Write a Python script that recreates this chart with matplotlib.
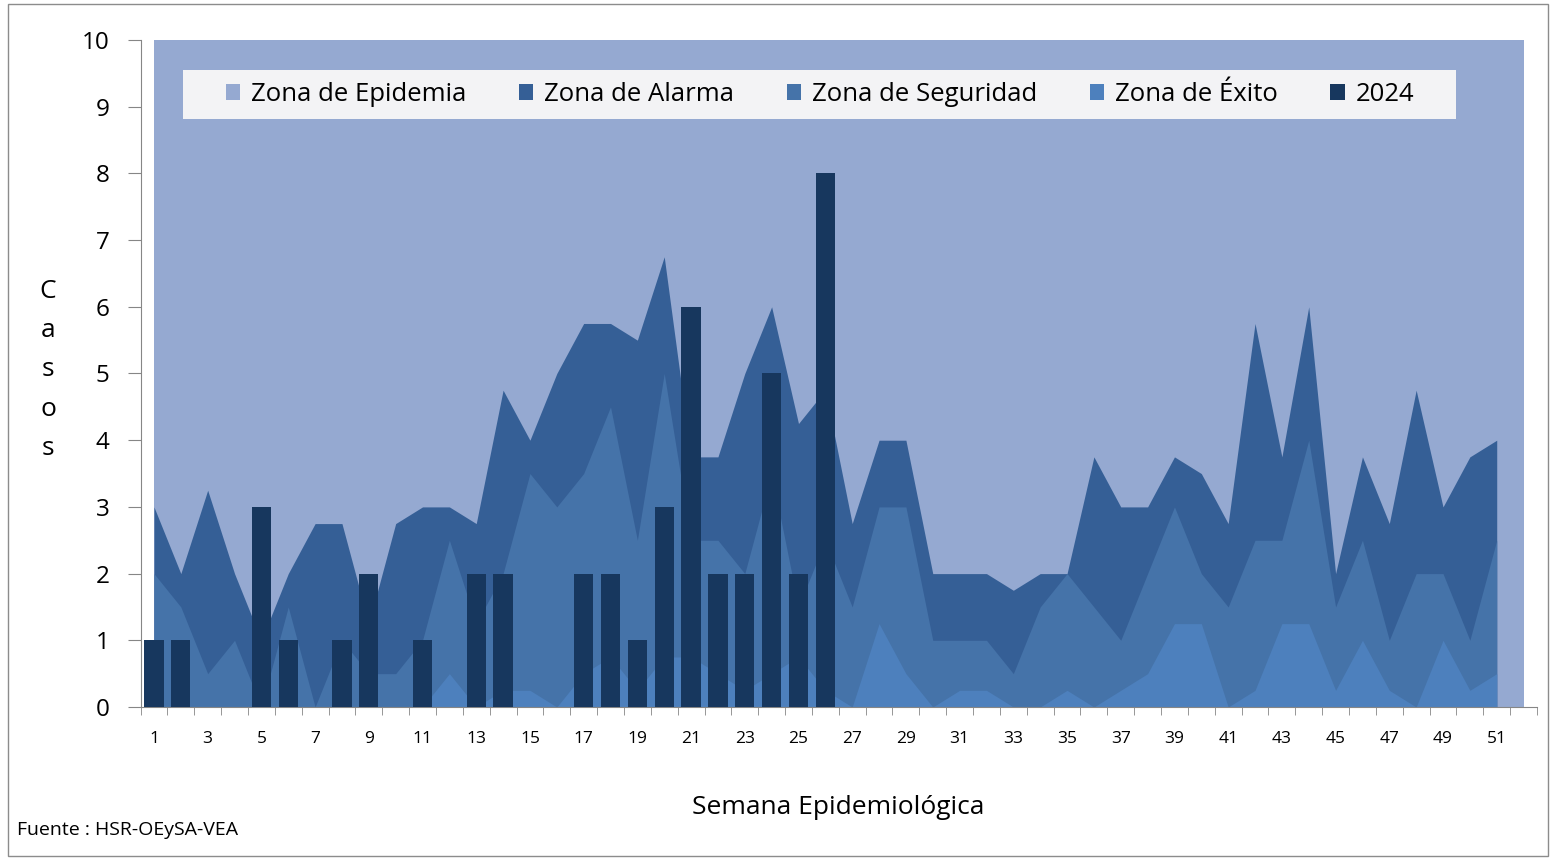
import matplotlib
matplotlib.use('Agg')
import matplotlib.pyplot as plt
from matplotlib.patches import Rectangle

plt.rcParams['font.family'] = ['Open Sans', 'DejaVu Sans']

# semanas epidemiologicas
semanas = [1, 2, 3, 4, 5, 6, 7, 8, 9, 10, 11, 12, 13, 14, 15, 16, 17, 18, 19, 20,
           21, 22, 23, 24, 25, 26, 27, 28, 29, 30, 31, 32, 33, 34, 35, 36, 37, 38, 39, 40,
           41, 42, 43, 44, 45, 46, 47, 48, 49, 50, 51]
semanas_epi = semanas + [52]

# limites superiores de cada zona (casos)
epidemia = [10] * 52
alarma = [3.0, 2.0, 3.25, 2.0, 1.0, 2.0, 2.75, 2.75, 1.25, 2.75,
          3.0, 3.0, 2.75, 4.75, 4.0, 5.0, 5.75, 5.75, 5.5, 6.75,
          3.75, 3.75, 5.0, 6.0, 4.25, 4.75, 2.75, 4.0, 4.0, 2.0,
          2.0, 2.0, 1.75, 2.0, 2.0, 3.75, 3.0, 3.0, 3.75, 3.5,
          2.75, 5.75, 3.75, 6.0, 2.0, 3.75, 2.75, 4.75, 3.0, 3.75, 4.0]
seguridad = [2.0, 1.5, 0.5, 1.0, 0.0, 1.5, 0.0, 1.0, 0.5, 0.5,
             1.0, 2.5, 1.25, 2.0, 3.5, 3.0, 3.5, 4.5, 2.5, 5.0,
             2.5, 2.5, 2.0, 3.5, 1.5, 2.5, 1.5, 3.0, 3.0, 1.0,
             1.0, 1.0, 0.5, 1.5, 2.0, 1.5, 1.0, 2.0, 3.0, 2.0,
             1.5, 2.5, 2.5, 4.0, 1.5, 2.5, 1.0, 2.0, 2.0, 1.0, 2.5]
exito = [0, 0, 0, 0, 0, 0, 0, 0, 0, 0,
         0, 0.5, 0, 0.25, 0.25, 0, 0.5, 0.75, 0.25, 0.75,
         0.75, 0.5, 0.25, 0.5, 0.75, 0.25, 0, 1.25, 0.5, 0,
         0.25, 0.25, 0, 0, 0.25, 0, 0.25, 0.5, 1.25, 1.25,
         0, 0.25, 1.25, 1.25, 0.25, 1.0, 0.25, 0, 1.0, 0.25, 0.5]

# casos 2024
semanas_2024 = [1, 2, 3, 4, 5, 6, 7, 8, 9, 10, 11, 12, 13, 14, 15, 16, 17, 18, 19, 20,
                21, 22, 23, 24, 25, 26]
casos_2024 = [1, 1, 0, 0, 3, 1, 0, 1, 2, 0, 1, 0, 2, 2, 0, 0, 2, 2, 1, 3,
              6, 2, 2, 5, 2, 8]

c_epi = '#95A9D1'
c_alarma = '#355F96'
c_seg = '#4573A9'
c_exito = '#4D80BD'
c_2024 = '#17375E'
gris = '#868686'

fig = plt.figure(figsize=(15.53, 8.6), dpi=100)
ax = fig.add_axes([0.0905, 0.1779, 0.8992, 0.7756])

h1 = ax.fill_between(semanas_epi, 0, epidemia, color=c_epi, lw=0, label='Zona de Epidemia')
h2 = ax.fill_between(semanas, 0, alarma, color=c_alarma, lw=0, label='Zona de Alarma')
h3 = ax.fill_between(semanas, 0, seguridad, color=c_seg, lw=0, label='Zona de Seguridad')
h4 = ax.fill_between(semanas, 0, exito, color=c_exito, lw=0, label='Zona de Éxito')
h5 = ax.bar(semanas_2024, casos_2024, width=0.72, color=c_2024, zorder=3, label='2024')

ax.set_xlim(0.5, 52.5)
ax.set_ylim(0, 10)
ax.set_xticks(semanas[::2])
ax.set_xticklabels([str(s) for s in semanas[::2]])
ax.set_xticks([s - 0.5 for s in semanas_epi] + [52.5], minor=True)
ax.set_yticks(range(0, 11))
ax.tick_params(axis='x', which='major', length=0, pad=17, labelsize=12.5)
ax.tick_params(axis='x', which='minor', length=6, color=gris, direction='out')
ax.tick_params(axis='y', length=9.4, pad=13, labelsize=17.5, color=gris)

for s in ['top', 'right']:
    ax.spines[s].set_visible(False)
for s in ['left', 'bottom']:
    ax.spines[s].set_color(gris)

# caja de la leyenda
ax.add_patch(Rectangle((0.0304, 0.882), 0.9116, 0.073, transform=ax.transAxes,
                       facecolor='#F3F3F5', edgecolor='none', zorder=4))
leg = ax.legend(handles=[h1, h2, h3, h4, h5], ncol=5, loc='center',
                bbox_to_anchor=(0.4865, 0.9185), frameon=False, fontsize=18.5,
                handlelength=0.55, handleheight=0.55, handletextpad=0.43,
                columnspacing=2.05)
leg.set_zorder(5)

fig.text(48 / 1553, 1 - 370 / 860, 'C\na\ns\no\ns', ha='center', va='center',
         fontsize=19, linespacing=1.75)
fig.text(838 / 1553, 1 - 808 / 860, 'Semana Epidemiológica', ha='center', va='center',
         fontsize=19)
fig.text(17 / 1553, 1 - 830 / 860, 'Fuente : HSR-OEySA-VEA', ha='left', va='center',
         fontsize=14)

fig.patches.append(Rectangle((8 / 1553, 4 / 860), 1540 / 1553, 852 / 860,
                             transform=fig.transFigure, fill=False,
                             edgecolor='#8C8C8C', lw=1))

fig.savefig('out.png', dpi=100)
